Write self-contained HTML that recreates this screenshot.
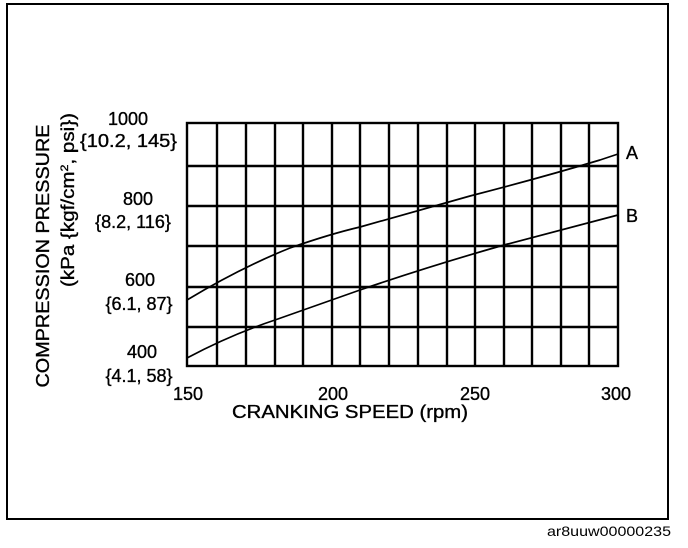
<!DOCTYPE html>
<html><head><style>html,body{margin:0;padding:0;background:#fff;}svg{display:block;}</style></head>
<body>
<svg width="688" height="548" viewBox="0 0 688 548" xmlns="http://www.w3.org/2000/svg" font-family="Liberation Sans, Arial, sans-serif" fill="#000">
<rect x="7" y="4" width="661" height="515" fill="none" stroke="#000" stroke-width="2"/>
<g stroke="#000" stroke-width="2.4" fill="none">
<rect x="187" y="123" width="431" height="243"/>
<line x1="217" y1="123" x2="217" y2="366"/>
<line x1="246" y1="123" x2="246" y2="366"/>
<line x1="275" y1="123" x2="275" y2="366"/>
<line x1="303" y1="123" x2="303" y2="366"/>
<line x1="332" y1="123" x2="332" y2="366"/>
<line x1="360" y1="123" x2="360" y2="366"/>
<line x1="389" y1="123" x2="389" y2="366"/>
<line x1="418" y1="123" x2="418" y2="366"/>
<line x1="447" y1="123" x2="447" y2="366"/>
<line x1="475" y1="123" x2="475" y2="366"/>
<line x1="504" y1="123" x2="504" y2="366"/>
<line x1="532" y1="123" x2="532" y2="366"/>
<line x1="561" y1="123" x2="561" y2="366"/>
<line x1="589" y1="123" x2="589" y2="366"/>
<line x1="187" y1="166" x2="618" y2="166"/>
<line x1="187" y1="206" x2="618" y2="206"/>
<line x1="187" y1="246" x2="618" y2="246"/>
<line x1="187" y1="287" x2="618" y2="287"/>
<line x1="187" y1="327" x2="618" y2="327"/>
</g>
<g stroke="#000" stroke-width="1.7" fill="none">
<path d="M187 300 Q 240 268 290 248 Q 330 234 360 227 Q 420 210 470 196 Q 540 178 600 160 L618 154"/>
<path d="M187 358 Q 230 335 275 320 Q 320 304 360 290 Q 430 266 504 245 Q 560 230 618 215"/>
</g>
<g font-size="18" text-anchor="middle" stroke="#000" stroke-width="0.35">
<text x="128" y="125">1000</text>
<text x="128.5" y="147" textLength="97" lengthAdjust="spacingAndGlyphs">{10.2, 145}</text>
<text x="138" y="205">800</text>
<text x="133" y="228">{8.2, 116}</text>
<text x="140" y="286">600</text>
<text x="139" y="310">{6.1, 87}</text>
<text x="142" y="358">400</text>
<text x="139" y="382">{4.1, 58}</text>
<text x="188" y="400">150</text>
<text x="333" y="400">200</text>
<text x="475" y="400">250</text>
<text x="616" y="400">300</text>
<text x="350" y="418" textLength="236" lengthAdjust="spacingAndGlyphs">CRANKING SPEED (rpm)</text>
<text x="632" y="159">A</text>
<text x="632" y="222">B</text>
<text transform="translate(49,256) rotate(-90)" textLength="263" lengthAdjust="spacingAndGlyphs">COMPRESSION PRESSURE</text>
<text transform="translate(74,200) rotate(-90)" textLength="174" lengthAdjust="spacingAndGlyphs">(kPa {kgf/cm<tspan font-size="11" dy="-6">2</tspan><tspan dy="6">, psi})</tspan></text>
</g>
<text x="671" y="536" font-size="14" text-anchor="end" textLength="124" lengthAdjust="spacingAndGlyphs">ar8uuw00000235</text>
</svg>
</body></html>
